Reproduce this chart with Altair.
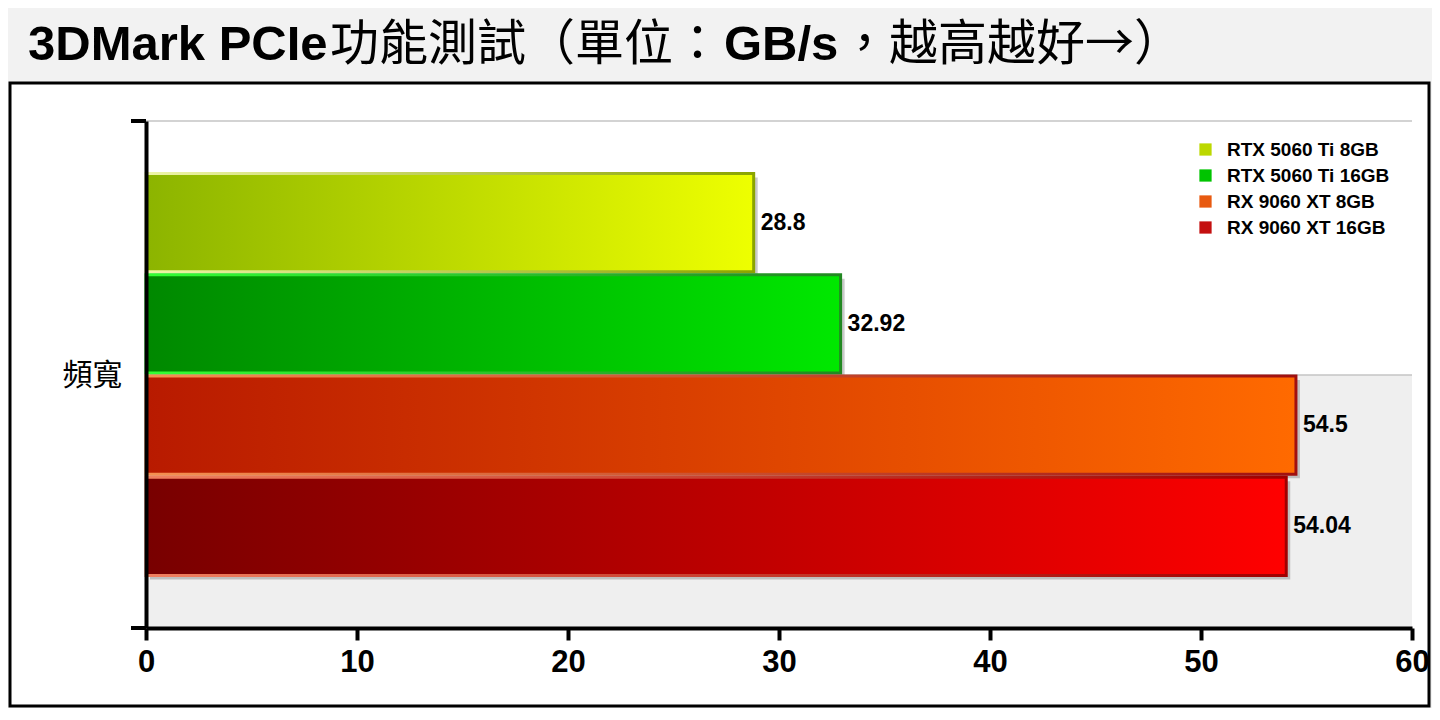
import altair as alt
import pandas as pd

# ---- data ----
series = ["RTX 5060 Ti 8GB", "RTX 5060 Ti 16GB", "RX 9060 XT 8GB", "RX 9060 XT 16GB"]
values = [28.8, 32.92, 54.5, 54.04]
labels = ["28.8", "32.92", "54.5", "54.04"]
category = "頻寬"
x_ticks = [0, 10, 20, 30, 40, 50, 60]
title_parts = ["3DMark PCIe", "功能測試（單位：", "GB/s", "，越高越好→）"]

# ---- styles ----
grad_left = ["#8cb400", "#008800", "#b81a00", "#780000"]
grad_right = ["#eeff00", "#00e800", "#ff6a00", "#ff0000"]
edge_light = ["#eef5a8", "#33ff33", "#f59050", "#f08060"]
edge_dark = ["#8aa400", "#228822", "#a01010", "#a00000"]
legend_colors = ["#bcd800", "#00c400", "#e85a10", "#c41010"]

W, H = 1266, 507
LATIN = "Liberation Sans"
CJK = "Noto Sans CJK TC"

df = pd.DataFrame({"series": series, "value": values, "label": labels})
one = pd.DataFrame({"k": [0]})

yscale = alt.Scale(domain=series, paddingInner=0.03, paddingOuter=0.52)
yaxis = alt.Axis(title=category, titleAngle=0, titleFont=CJK, titleFontSize=30,
                 titleFontWeight="normal", titleColor="black", titleX=-54, titleY=254,
                 titleAlign="center", titleBaseline="middle", labels=False, ticks=False,
                 domainWidth=4, domainColor="black", zindex=2)
xscale = alt.Scale(domain=[0, 60], nice=False)
xaxis = alt.Axis(values=x_ticks, grid=False, domainWidth=4, domainColor="black",
                 tickSize=12, tickWidth=4, tickColor="black", labelFont=LATIN,
                 labelFontWeight="bold", labelFontSize=31, labelPadding=7,
                 labelColor="black", title=None, labelFlush=False, zindex=2)

X = alt.X("value:Q", scale=xscale, axis=xaxis)
Y = alt.Y("series:N", scale=yscale, axis=yaxis, sort=series)

base = alt.Chart(df)

# chart box and plot decorations
box = alt.Chart(one).mark_rect(fill="white", stroke="black", strokeWidth=3).encode(
    x=alt.value(-136), x2=alt.value(1283), y=alt.value(-38), y2=alt.value(585))
band = alt.Chart(one).mark_rect(fill="#efefef").encode(
    x=alt.value(0), x2=alt.value(W), y=alt.value(254), y2=alt.value(H))
grid_top = alt.Chart(one).mark_rule(color="#c4c4c4", strokeWidth=1.5).encode(
    x=alt.value(0), x2=alt.value(W), y=alt.value(0))
grid_mid = alt.Chart(one).mark_rule(color="#c4c4c4", strokeWidth=1.5).encode(
    x=alt.value(0), x2=alt.value(W), y=alt.value(254))
ytick_top = alt.Chart(one).mark_rule(color="black", strokeWidth=4).encode(
    x=alt.value(-15), x2=alt.value(0), y=alt.value(0))
ytick_bot = alt.Chart(one).mark_rule(color="black", strokeWidth=4).encode(
    x=alt.value(-15), x2=alt.value(0), y=alt.value(H))

shadow = base.mark_bar(color="#666666", opacity=0.35, xOffset=4, x2Offset=4,
                       yOffset=4, y2Offset=4).encode(x=X, y=Y)

bars = []
for i, s in enumerate(series):
    fill = alt.Gradient(gradient="linear",
                        stops=[alt.GradientStop(color=grad_left[i], offset=0),
                               alt.GradientStop(color=grad_right[i], offset=1)],
                        x1=0, x2=1, y1=0, y2=0)
    stroke = alt.Gradient(gradient="linear",
                          stops=[alt.GradientStop(color=edge_light[i], offset=0),
                                 alt.GradientStop(color=edge_dark[i], offset=1)],
                          x1=0, x2=1, y1=0, y2=0)
    bars.append(base.transform_filter(alt.datum.series == s)
                .mark_bar(fill=fill, stroke=stroke, strokeWidth=3, x2Offset=3)
                .encode(x=X, y=Y))

text = base.mark_text(align="left", baseline="middle", dx=7, font=LATIN,
                      fontWeight="bold", fontSize=23, color="black").encode(
    x=X, y=Y, text="label:N")

legend_layer = base.mark_square(opacity=0, size=10).encode(
    x=X, y=Y,
    color=alt.Color("series:N", scale=alt.Scale(domain=series, range=legend_colors),
                    legend=alt.Legend(title=None, orient="none", legendX=1050, legendY=19,
                                      symbolType="square", symbolSize=150, symbolOpacity=1,
                                      symbolStrokeWidth=0, labelFont=LATIN,
                                      labelFontWeight="bold", labelFontSize=19,
                                      labelColor="black", labelOffset=12, rowPadding=6,
                                      labelLimit=400, padding=0)))

title_x = [28 - 146, 330 - 146, 724 - 146, 840 - 146]
title_bold = [True, False, True, False]
titles = []
for t, tx, b in zip(title_parts, title_x, title_bold):
    titles.append(alt.Chart(one).mark_text(
        align="left", baseline="alphabetic", fontSize=49,
        font=(LATIN if b else CJK), fontWeight=("bold" if b else "normal"),
        color="black").encode(x=alt.value(tx), y=alt.value(-61), text=alt.value(t)))

chart = alt.layer(box, band, grid_top, grid_mid, shadow, *bars, text, legend_layer,
                  ytick_top, ytick_bot, *titles).properties(
    width=W, height=H,
    padding={"left": 138, "top": 113, "right": 20, "bottom": 80},
    autosize=alt.AutoSizeParams(type="none"),
    background="#f2f2f2",
).configure_view(strokeWidth=0)

chart.save("out.html", embed_options={"renderer": "svg", "actions": False})
